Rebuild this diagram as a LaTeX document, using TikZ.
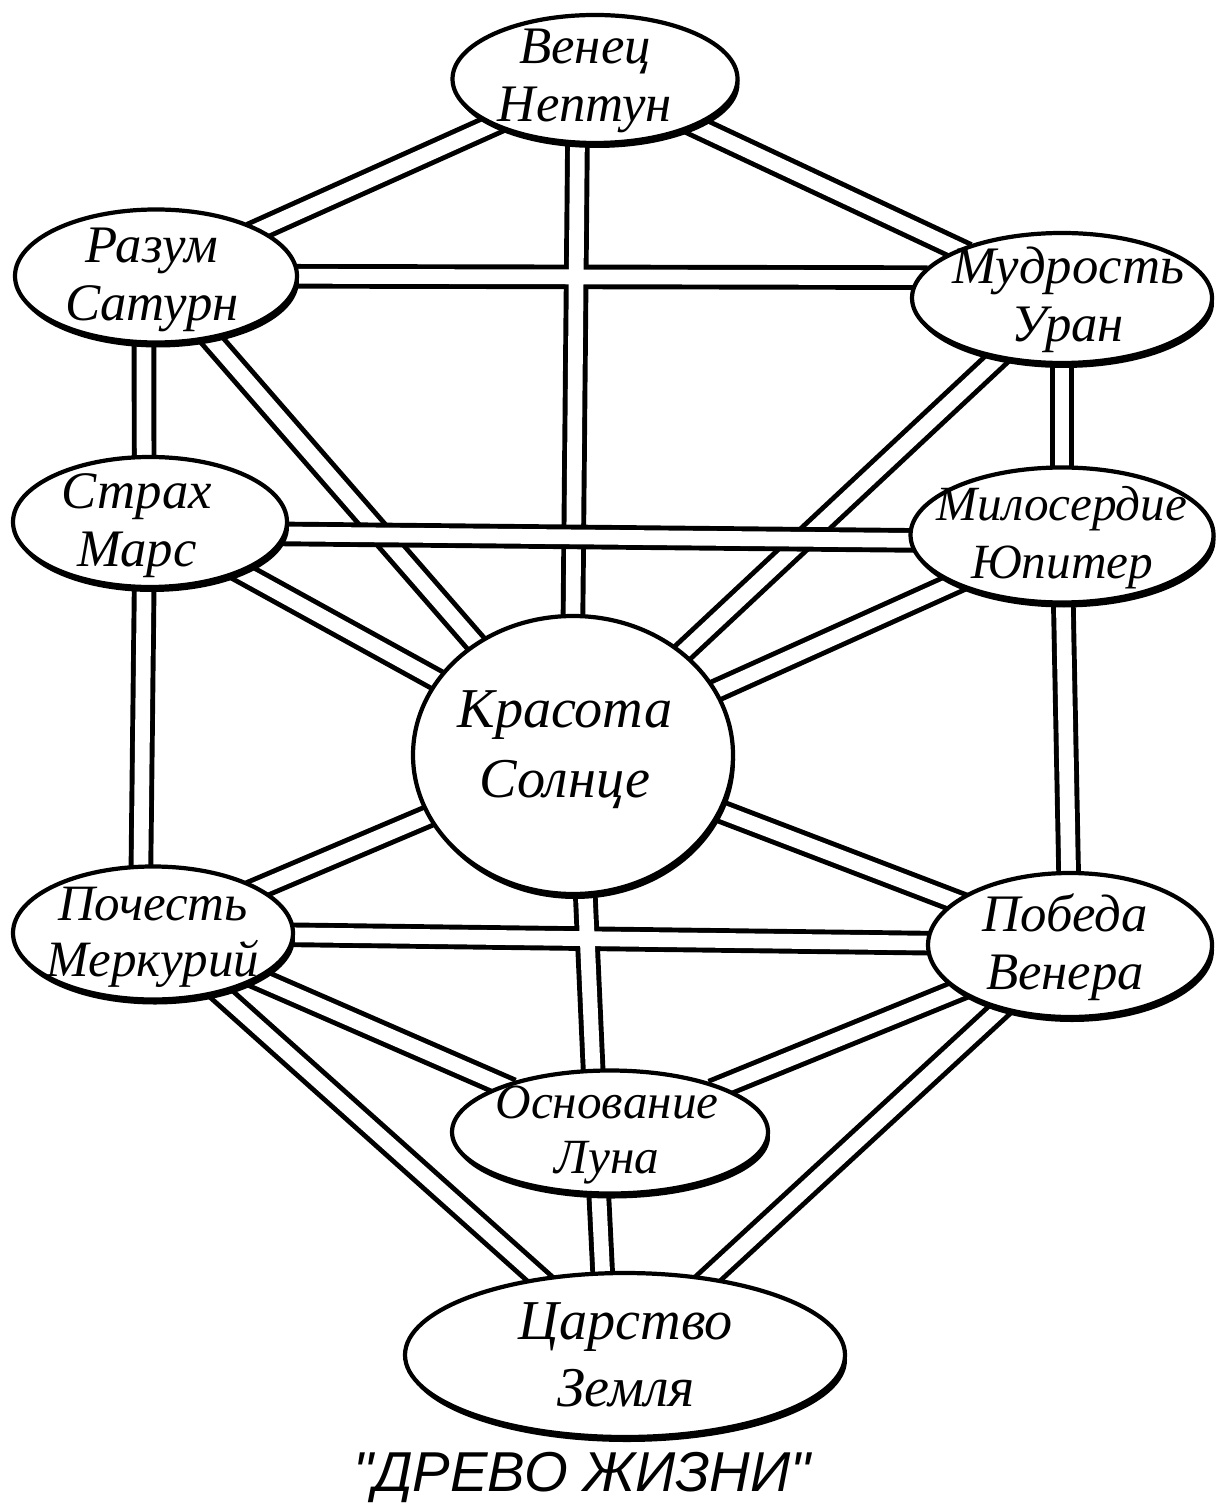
\documentclass[tikz,border=0pt]{standalone}
\usepackage{fontspec}
\setmainfont{Liberation Serif}
\newfontfamily\titlefont{Liberation Sans}
\usetikzlibrary{shapes.geometric, shadows, backgrounds}

% Every path of the tree, as pairs of spheres (with anchors where the
% channel has to run straight up or across).
\newcommand{\treepaths}{%
    venec/razum, venec/mudrost, venec.-105/krasota.north,%
    razum/mudrost.172, razum.-100/strakh.95, razum/krasota,%
    mudrost/miloserdie, mudrost/krasota,%
    strakh/krasota, miloserdie/krasota,%
    strakh.-95/pochest.100, miloserdie/pobeda,%
    krasota/pochest, krasota/pobeda, krasota.-85/osnovanie.105,%
    pochest/pobeda, pochest/osnovanie, pobeda/osnovanie,%
    pochest/tsarstvo, pobeda/tsarstvo, osnovanie.-100/tsarstvo.105}

\begin{document}
\begin{tikzpicture}[%
        line cap = butt,
        sefira/.style = {%
            ellipse,
            draw,
            fill = white,
            line width = 1.2pt,
            inner sep = 0pt,
            drop shadow = {shadow xshift = 0.2mm, shadow yshift = -0.5mm,
                           fill = black, opacity = 1}
        },
        sefiratext/.style = {%
            align = center,
            font = \itshape\fontsize{15}{16.5}\selectfont
        },
        channel/.style = {%
            line width = 7pt,
            shorten < = -3pt,
            shorten > = -3pt
        },
        channelgap/.style = {channel, draw = white, line width = 4.2pt}
    ]

        % Fix the size of the page.
        \useasboundingbox (0.0, 0.0) rectangle (12.17, -15.08);

        % The spheres of the tree.
        \node[sefira, minimum width = 2.85cm, minimum height = 1.28cm] (venec) at (5.95, -0.79) {};
        \node[sefira, minimum width = 2.82cm, minimum height = 1.33cm] (razum) at (1.56, -2.76) {};
        \node[sefira, minimum width = 3.00cm, minimum height = 1.30cm] (mudrost) at (10.62, -2.98) {};
        \node[sefira, minimum width = 2.74cm, minimum height = 1.30cm] (strakh) at (1.50, -5.22) {};
        \node[sefira, minimum width = 3.03cm, minimum height = 1.35cm] (miloserdie) at (10.62, -5.35) {};
        \node[sefira, minimum width = 3.20cm, minimum height = 2.78cm] (krasota) at (5.73, -7.55) {};
        \node[sefira, minimum width = 2.80cm, minimum height = 1.33cm] (pochest) at (1.53, -9.33) {};
        \node[sefira, minimum width = 2.84cm, minimum height = 1.44cm] (pobeda) at (10.70, -9.45) {};
        \node[sefira, minimum width = 3.16cm, minimum height = 1.23cm] (osnovanie) at (6.10, -11.32) {};
        \node[sefira, minimum width = 4.40cm, minimum height = 1.64cm] (tsarstvo) at (6.25, -13.55) {};

        % Names written inside them.
        \node[sefiratext] (venec text) at (5.85, -0.81) {Венец\\Нептун};
        \node[sefiratext] (razum text) at (1.52, -2.80) {Разум\\Сатурн};
        \node[sefiratext] (mudrost text) at (10.68, -3.00) {Мудрость\\Уран};
        \node[sefiratext] (strakh text) at (1.37, -5.26) {Страх\\Марс};
        \node[sefiratext, font = \itshape\fontsize{14}{16.5}\selectfont]
            (miloserdie text) at (10.62, -5.38) {Милосердие\\Юпитер};
        \node[sefiratext, font = \itshape\fontsize{16}{20}\selectfont]
            (krasota text) at (5.65, -7.50) {Красота\\Солнце};
        \node[sefiratext, font = \itshape\fontsize{14.5}{16}\selectfont]
            (pochest text) at (1.53, -9.37) {Почесть\\Меркурий};
        \node[sefiratext] (pobeda text) at (10.65, -9.47) {Победа\\Венера};
        \node[sefiratext, font = \itshape\fontsize{14}{15.5}\selectfont]
            (osnovanie text) at (6.07, -11.35) {Основание\\Луна};
        \node[sefiratext, font = \itshape\fontsize{16}{19}\selectfont]
            (tsarstvo text) at (6.26, -13.55) {Царство\\Земля};

        % Title under the tree.
        \node[font = \titlefont\itshape\fontsize{16}{18}\selectfont]
            (title) at (5.82, -14.77) {"ДРЕВО ЖИЗНИ"};

        % Channels behind the spheres: black first, then the white inside,
        % so that crossings stay open.
        \begin{pgfonlayer}{background}
            \foreach \a/\b in \treepaths
                \draw[channel] (\a) -- (\b);
            \foreach \a/\b in \treepaths
                \draw[channelgap] (\a) -- (\b);

            % The bar from fear to mercy runs over the diagonals.
            \draw[channel] (strakh.-5) -- (miloserdie.182);
            \draw[channelgap] (strakh.-5) -- (miloserdie.182);
        \end{pgfonlayer}
    \end{tikzpicture}
\end{document}
